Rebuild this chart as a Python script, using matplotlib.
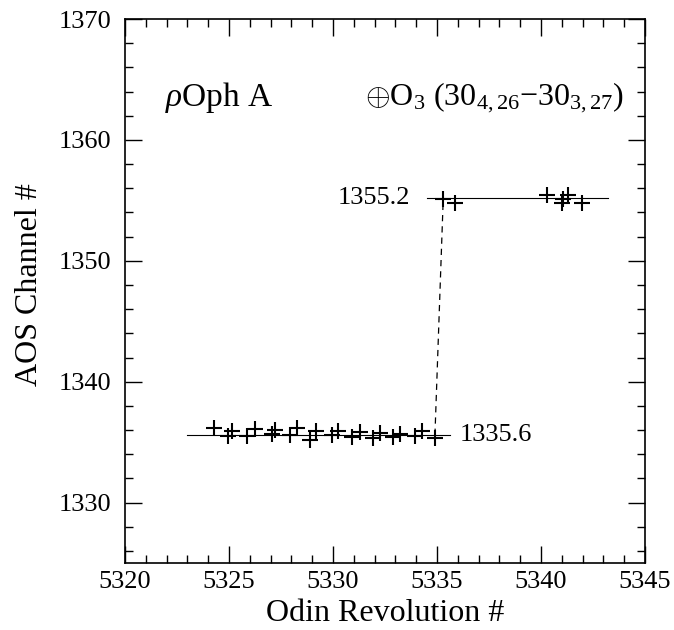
import numpy as np
import matplotlib
matplotlib.use('Agg')
import matplotlib.pyplot as plt
from matplotlib.ticker import MultipleLocator

plt.rcParams.update({
    'font.family': 'Liberation Serif',
    'mathtext.fontset': 'custom',
    'mathtext.rm': 'Liberation Serif',
    'mathtext.it': 'Liberation Serif:italic',
    'mathtext.bf': 'Liberation Serif:bold',
})

# ── Data ──────────────────────────────────────────────────────────────────────
low_rev = [5324.28, 5324.97, 5325.13, 5325.85, 5326.25, 5327.05, 5327.20,
           5327.93, 5328.25, 5328.90, 5329.20, 5329.94, 5330.25, 5330.90,
           5331.30, 5331.94, 5332.26, 5332.90, 5333.22, 5333.94, 5334.26,
           5334.90]
low_chan = [1336.2, 1335.5, 1335.9, 1335.5, 1336.1, 1335.7, 1336.0,
            1335.6, 1336.2, 1335.2, 1335.9, 1335.6, 1335.95, 1335.4,
            1335.85, 1335.35, 1335.75, 1335.4, 1335.7, 1335.5, 1335.9,
            1335.35]
high_rev = [5335.30, 5335.87, 5340.27, 5340.99, 5341.07, 5341.31, 5341.95]
high_chan = [1355.1, 1354.8, 1355.45, 1354.77, 1355.1, 1355.45, 1354.8]

low_mean = 1335.6
high_mean = 1355.2
low_span = [5323.0, 5335.6]
high_span = [5334.5, 5343.2]

# ── Figure ────────────────────────────────────────────────────────────────────
fig = plt.figure(figsize=(6.74, 6.30), dpi=100)
ax = fig.add_axes([0.1855, 0.1063, 0.7715, 0.8635])

ax.plot(low_span, [low_mean, low_mean], color='black', lw=0.8)
ax.plot(high_span, [high_mean, high_mean], color='black', lw=0.8)
ax.plot([low_rev[-1], high_rev[0]], [low_mean, high_mean],
        color='black', lw=0.9, ls=(0, (5, 4)))

ax.plot(low_rev, low_chan, ls='none', marker='+', ms=11, mew=1.5, color='black')
ax.plot(high_rev, high_chan, ls='none', marker='+', ms=11, mew=1.5, color='black')

ax.text(5336.1, low_mean, f'{low_mean:.1f}', fontsize=19, va='center', ha='left')
ax.text(5333.7, high_mean, f'{high_mean:.1f}', fontsize=19, va='center', ha='right')

ax.text(5321.9, 1363.5, r'$\rho$Oph A', fontsize=24, va='center', ha='left')
ax.text(5344.0, 1363.5, r'$\oplus$O$_3$ (30$_{4,26}$$-$30$_{3,27}$)',
        fontsize=23, va='center', ha='right')

ax.set_xlim(5320, 5345)
ax.set_ylim(1325, 1370)
ax.xaxis.set_major_locator(MultipleLocator(5))
ax.xaxis.set_minor_locator(MultipleLocator(1))
ax.yaxis.set_major_locator(MultipleLocator(10))
ax.yaxis.set_minor_locator(MultipleLocator(2))
ax.tick_params(which='both', direction='in', top=True, right=True,
               width=1.0, labelsize=19)
ax.tick_params(axis='x', pad=6)
ax.tick_params(axis='y', pad=10)
ax.tick_params(which='major', length=12)
ax.tick_params(which='minor', length=6)
for sp in ax.spines.values():
    sp.set_linewidth(1.2)

ax.set_xlabel('Odin Revolution #', fontsize=23)
ax.set_ylabel('AOS Channel #', fontsize=23)
ax.xaxis.set_label_coords(0.5, -0.092)
ax.xaxis.label.set_va('center')
ax.yaxis.set_label_coords(-0.183, 0.511)
ax.yaxis.label.set_va('center')

fig.savefig('out.png', dpi=100)
